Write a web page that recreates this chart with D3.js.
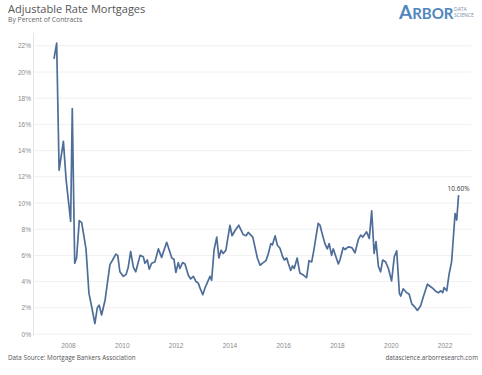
<!DOCTYPE html>
<html>
<head>
<meta charset="utf-8">
<script src="https://cdn.jsdelivr.net/npm/d3@7"></script>
<style>
  body { margin: 0; background: #fff; }
  svg { font-family: "Open Sans", "DejaVu Sans", sans-serif; }
</style>
</head>
<body>
<div id="chart"></div>
<script>
// DATA
// decimal year of each reading
const years = [
    2007.48, 2007.58, 2007.67, 2007.83, 2007.93, 2008.10, 2008.16, 2008.25, 2008.32, 2008.42,
    2008.51, 2008.67, 2008.78, 2008.88, 2009.00, 2009.09, 2009.16, 2009.25, 2009.38, 2009.56,
    2009.66, 2009.78, 2009.85, 2009.93, 2010.06, 2010.16, 2010.24, 2010.33, 2010.43, 2010.52,
    2010.68, 2010.80, 2010.86, 2010.95, 2011.02, 2011.11, 2011.23, 2011.36, 2011.48, 2011.67,
    2011.86, 2011.94, 2012.01, 2012.10, 2012.16, 2012.26, 2012.35, 2012.47, 2012.56, 2012.66,
    2012.76, 2012.84, 2012.91, 2013.01, 2013.09, 2013.28, 2013.34, 2013.43, 2013.53, 2013.61,
    2013.69, 2013.77, 2013.87, 2014.02, 2014.10, 2014.21, 2014.35, 2014.51, 2014.62, 2014.70,
    2014.87, 2014.95, 2015.04, 2015.14, 2015.26, 2015.36, 2015.45, 2015.54, 2015.60, 2015.70,
    2015.78, 2015.88, 2015.98, 2016.04, 2016.13, 2016.19, 2016.28, 2016.35, 2016.41, 2016.52,
    2016.62, 2016.75, 2016.87, 2016.96, 2017.06, 2017.14, 2017.30, 2017.37, 2017.43, 2017.55,
    2017.64, 2017.71, 2017.80, 2017.86, 2018.05, 2018.11, 2018.23, 2018.30, 2018.42, 2018.55,
    2018.67, 2018.79, 2018.88, 2018.96, 2019.10, 2019.20, 2019.29, 2019.38, 2019.45, 2019.54,
    2019.62, 2019.70, 2019.81, 2019.91, 2020.03, 2020.13, 2020.22, 2020.32, 2020.37, 2020.46,
    2020.59, 2020.68, 2020.78, 2020.90, 2020.99, 2021.11, 2021.21, 2021.36, 2021.52, 2021.68,
    2021.77, 2021.86, 2021.93, 2021.98, 2022.08, 2022.17, 2022.26, 2022.39, 2022.45, 2022.52
];
// ARM share of applications, percent
const armShare = [
    21.0, 22.2, 12.5, 14.7, 11.8, 8.6, 17.2, 5.4, 5.8, 8.65,
    8.5, 6.5, 3.1, 2.1, 0.8, 2.0, 2.2, 1.45, 2.6, 5.3,
    5.65, 6.1, 6.0, 4.75, 4.4, 4.55, 5.1, 6.3, 5.1, 4.75,
    6.0, 5.9, 5.4, 5.65, 4.95, 5.4, 5.5, 6.5, 5.85, 7.0,
    5.8, 5.7, 4.7, 5.45, 5.0, 5.45, 5.35, 4.5, 4.2, 4.4,
    4.0, 3.9, 3.5, 3.0, 3.5, 4.4, 4.1, 6.4, 7.4, 5.8,
    6.4, 6.15, 6.4, 8.3, 7.5, 7.9, 8.3, 7.6, 7.5, 7.75,
    7.4, 6.65, 5.8, 5.25, 5.45, 5.6, 6.15, 6.9, 6.8, 7.5,
    6.8, 6.55, 5.9, 5.65, 5.8, 5.4, 4.85, 5.2, 5.0, 5.8,
    4.65, 4.5, 4.3, 5.6, 5.5, 6.4, 8.45, 8.3, 7.8, 6.9,
    6.5, 6.9, 6.0, 6.5, 5.35, 5.65, 6.6, 6.45, 6.65, 6.6,
    6.2, 7.2, 7.55, 7.4, 7.8, 7.3, 9.4, 6.15, 7.05, 5.15,
    4.75, 5.65, 5.5, 5.0, 4.05, 5.9, 6.35, 3.1, 2.9, 3.45,
    3.15, 3.05, 2.3, 2.05, 1.8, 2.15, 2.85, 3.8, 3.55, 3.25,
    3.15, 3.3, 3.15, 3.55, 3.3, 4.6, 5.5, 9.2, 8.7, 10.6
];
const xTicks = [2008, 2010, 2012, 2014, 2016, 2018, 2020, 2022];
const yTicks = [0, 2, 4, 6, 8, 10, 12, 14, 16, 18, 20, 22];

const data = years.map((yr, i) => ({ year: yr, value: armShare[i] }));

// CHART
const width = 482;
const height = 375;
const lineColor = "#4e6d98";

const svg = d3.select("#chart")
    .append("svg")
        .attr("width", width)
        .attr("height", height);

const x = d3.scaleLinear()
    .domain([2006.7, 2023.0])
    .range([33, 471.5]);
const y = d3.scaleLinear()
    .domain([0, 23])
    .range([334, 32.7]);

// gridlines
svg.append("g")
    .selectAll("line")
    .data(yTicks)
    .join("line")
        .attr("x1", x.range()[0])
        .attr("x2", x.range()[1])
        .attr("y1", d => y(d))
        .attr("y2", d => y(d))
        .attr("stroke", "#f0f0f0")
        .attr("stroke-width", 1);

// left border
svg.append("line")
    .attr("x1", 33.5).attr("x2", 33.5)
    .attr("y1", y.range()[1]).attr("y2", y(0) + 2)
    .attr("stroke", "#e6e6e6");

// y axis
svg.append("g")
    .attr("transform", "translate(31,0)")
    .call(d3.axisLeft(y).tickValues(yTicks).tickSize(0).tickPadding(0).tickFormat(d => d + "%"))
    .call(g => g.select(".domain").remove())
    .call(g => g.selectAll("text")
        .attr("fill", "#8a8a8a")
        .attr("font-size", 6.5));

// x axis
svg.append("g")
    .attr("transform", `translate(0,${y(0) + 4})`)
    .call(d3.axisBottom(x).tickValues(xTicks).tickSize(0).tickPadding(5).tickFormat(d3.format("d")))
    .call(g => g.select(".domain").remove())
    .call(g => g.selectAll("text")
        .attr("fill", "#8a8a8a")
        .attr("font-size", 6.5));

// line
const line = d3.line()
    .x(d => x(d.year))
    .y(d => y(d.value));

svg.append("path")
    .datum(data)
    .attr("d", line)
    .attr("fill", "none")
    .attr("stroke", lineColor)
    .attr("stroke-width", 1.7)
    .attr("stroke-linejoin", "round");

// end label
const last = data[data.length - 1];
svg.append("text")
    .attr("x", x(last.year))
    .attr("y", y(last.value) - 4)
    .attr("text-anchor", "middle")
    .attr("font-size", 6.5)
    .attr("fill", "#333")
    .text(last.value.toFixed(2) + "%");

// titles
svg.append("text")
    .attr("x", 8).attr("y", 13)
    .attr("font-size", 11)
    .attr("fill", "#555")
    .text("Adjustable Rate Mortgages");
svg.append("text")
    .attr("x", 8).attr("y", 22)
    .attr("font-size", 6.8)
    .attr("fill", "#666")
    .text("By Percent of Contracts");

// logo
const logo = svg.append("text")
    .attr("x", 399).attr("y", 19)
    .attr("fill", "#4f86bd")
    .attr("font-weight", "bold")
    .attr("font-family", "Lato, 'Open Sans', sans-serif");
logo.append("tspan").attr("font-size", 19).text("A");
logo.append("tspan").attr("font-size", 15).text("RBOR");
svg.append("text")
    .attr("x", 454).attr("y", 11)
    .attr("font-size", 5)
    .attr("fill", "#7a8ea8")
    .text("DATA");
svg.append("text")
    .attr("x", 454).attr("y", 17)
    .attr("font-size", 5)
    .attr("fill", "#7a8ea8")
    .text("SCIENCE");

// footer
svg.append("text")
    .attr("x", 8).attr("y", 360)
    .attr("font-size", 6.3)
    .attr("fill", "#555")
    .text("Data Source: Mortgage Bankers Association");
svg.append("text")
    .attr("x", 478).attr("y", 360)
    .attr("text-anchor", "end")
    .attr("font-size", 6.3)
    .attr("fill", "#555")
    .text("datascience.arborresearch.com");
</script>
</body>
</html>
